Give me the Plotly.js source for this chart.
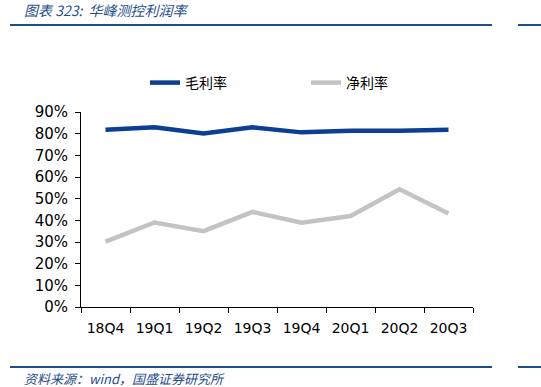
<!DOCTYPE html>
<html>
<head>
<meta charset="utf-8">
<script src="https://cdn.plot.ly/plotly-3.0.1.min.js"></script>
<style>html,body{margin:0;padding:0;background:#fff;}#chart{width:541px;height:387px;}</style>
</head>
<body>
<div id="chart"></div>
<script>
const categories = ["18Q4","19Q1","19Q2","19Q3","19Q4","20Q1","20Q2","20Q3"];
const grossMargin = [81.8, 83.0, 80.1, 82.9, 80.6, 81.4, 81.4, 81.8];
const netMargin = [30.2, 39.0, 35.0, 43.9, 38.9, 42.0, 54.3, 43.2];
const seriesNames = ["毛利率", "净利率"];
const yTickVals = [0,10,20,30,40,50,60,70,80,90];
const yTickText = yTickVals.map(v => v + "%");

const L = 81, R = 473, T = 112, B = 307;
const W = R - L, H = B - T;
const px = x => (x - L) / W;
const py = y => (B - y) / H;

const traces = [
  {x: categories, y: grossMargin, name: seriesNames[0], type: "scatter", mode: "lines",
   line: {color: "#0C3F92", width: 4.5}},
  {x: categories, y: netMargin, name: seriesNames[1], type: "scatter", mode: "lines",
   line: {color: "#C3C3C3", width: 4.5}}
];

const cjk = "'Noto Sans CJK SC', 'DejaVu Sans', sans-serif";
const layout = {
  width: 541, height: 387,
  margin: {l: L, r: 541 - R, t: T, b: 387 - B, pad: 0},
  paper_bgcolor: "#ffffff", plot_bgcolor: "#ffffff",
  font: {family: "'DejaVu Sans', Verdana, sans-serif", color: "#000", size: 14},
  showlegend: true,
  legend: {orientation: "h", x: px(145), y: py(83), xanchor: "left", yanchor: "middle",
           entrywidth: 116, entrywidthmode: "pixels",
           font: {family: cjk, size: 14, color: "#000"}, bgcolor: "rgba(0,0,0,0)",
           itemwidth: 30, tracegroupgap: 0},
  xaxis: {type: "category", range: [-0.5, 7.5], showgrid: false, zeroline: false, showline: true,
          linecolor: "#000", linewidth: 1, ticks: "outside", ticklen: 5, tickcolor: "#000",
          tickson: "boundaries", tickfont: {size: 14}, ticklabelstandoff: 8,
          fixedrange: true, mirror: false},
  yaxis: {range: [0, 90], tickvals: yTickVals, ticktext: yTickText, showgrid: false,
          zeroline: false, showline: true, linecolor: "#000", linewidth: 1,
          ticks: "outside", ticklen: 5, tickcolor: "#000", tickfont: {size: 15},
          ticklabelstandoff: 4, fixedrange: true},
  shapes: [
    {type: "line", xref: "paper", yref: "paper", x0: px(10), x1: px(492), y0: py(25), y1: py(25),
     line: {color: "#1F4E8C", width: 2}},
    {type: "line", xref: "paper", yref: "paper", x0: px(518), x1: px(541), y0: py(25), y1: py(25),
     line: {color: "#1F4E8C", width: 2}},
    {type: "line", xref: "paper", yref: "paper", x0: px(10), x1: px(492), y0: py(367), y1: py(367),
     line: {color: "#1F4E8C", width: 2}},
    {type: "line", xref: "paper", yref: "paper", x0: px(518), x1: px(541), y0: py(367), y1: py(367),
     line: {color: "#1F4E8C", width: 2}}
  ],
  annotations: [
    {text: "<i>图表 323:  华峰测控利润率</i>", xref: "paper", yref: "paper", x: px(22), y: py(10),
     xanchor: "left", yanchor: "middle", showarrow: false,
     font: {family: cjk, size: 14, color: "#1F4E8C"}},
    {text: "<i>资料来源：wind，国盛证券研究所</i>", xref: "paper", yref: "paper", x: px(22), y: py(378),
     xanchor: "left", yanchor: "middle", showarrow: false,
     font: {family: cjk, size: 13, color: "#1F4E8C"}}
  ]
};

Plotly.newPlot("chart", traces, layout, {displayModeBar: false, staticPlot: true});
</script>
</body>
</html>
